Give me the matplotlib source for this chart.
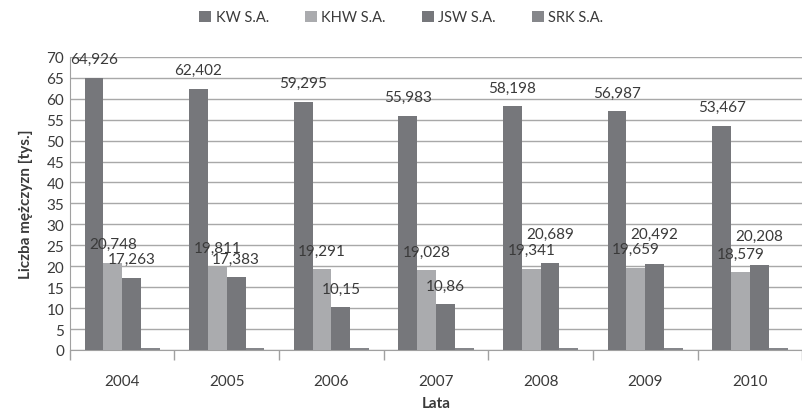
import numpy as np
from matplotlib import pyplot as plt
from matplotlib.patches import Patch

plt.rcParams['font.family'] = ['Lato', 'DejaVu Sans']

years = ['2004', '2005', '2006', '2007', '2008', '2009', '2010']
companies = ['KW S.A.', 'KHW S.A.', 'JSW S.A.', 'SRK S.A.']
kw = [64.926, 62.402, 59.295, 55.983, 58.198, 56.987, 53.467]
khw = [20.748, 19.811, 19.291, 19.028, 19.341, 19.659, 18.579]
jsw = [17.263, 17.383, 10.15, 10.86, 20.689, 20.492, 20.208]
srk = [0.4, 0.4, 0.4, 0.4, 0.4, 0.4, 0.4]  # no labels in the original, estimated
kw_lbl = ['64,926', '62,402', '59,295', '55,983', '58,198', '56,987', '53,467']
khw_lbl = ['20,748', '19,811', '19,291', '19,028', '19,341', '19,659', '18,579']
jsw_lbl = ['17,263', '17,383', '10,15', '10,86', '20,689', '20,492', '20,208']

colors = ['#76777b', '#aaabae', '#76777b', '#86878b']
txt = '#3a3a3a'

fig = plt.figure(figsize=(8.03, 4.10), dpi=100)
ax = fig.add_axes([0.087, 0.144, 0.912, 0.715])

x = np.arange(len(years))
w = 0.18
series = [kw, khw, jsw, srk]
for i, vals in enumerate(series):
    ax.bar(x + (i - 1.5) * w, vals, w, color=colors[i], zorder=3)

# data labels (Excel moved some JSW labels up a bit to avoid overlap)
for i in range(len(years)):
    ax.annotate(kw_lbl[i], (x[i] - 1.5 * w, kw[i]), xytext=(0, 13.5),
                textcoords='offset points', ha='center', va='center',
                fontsize=11, color=txt, zorder=5)
    ax.annotate(khw_lbl[i], (x[i] - 0.5 * w, khw[i]), xytext=(0, 13.5),
                textcoords='offset points', ha='center', va='center',
                fontsize=11, color=txt, zorder=5)
    dy = 21.5 if i >= 4 else 13.5
    ax.annotate(jsw_lbl[i], (x[i] + 0.5 * w, jsw[i]), xytext=(0, dy),
                textcoords='offset points', ha='center', va='center',
                fontsize=11, color=txt, zorder=5)

ax.set_xlim(-0.5, len(years) - 0.5)
ax.set_ylim(0, 70)
ax.set_yticks(range(0, 71, 5))
ax.set_xticks(x)
ax.set_xticklabels(years)
ax.set_xticks(np.arange(-0.5, len(years)), minor=True)
ax.tick_params(axis='x', which='major', length=0, pad=17, labelsize=11, labelcolor=txt)
ax.tick_params(axis='x', which='minor', length=7, color='#a0a0a0', width=1)
ax.tick_params(axis='y', length=0, pad=4, labelsize=11, labelcolor=txt)
ax.grid(axis='y', color='#a8a8a8', linewidth=1, zorder=0)

for s in ['top', 'right']:
    ax.spines[s].set_visible(False)
for s in ['left', 'bottom']:
    ax.spines[s].set_color('#a0a0a0')

ax.set_ylabel('Liczba mężczyzn [tys.]', fontsize=11, fontweight='bold', color=txt, labelpad=10)
ax.set_xlabel('Lata', fontsize=11, fontweight='bold', color=txt, labelpad=6)

handles = [Patch(facecolor=c) for c in colors]
fig.legend(handles, companies, loc='center', bbox_to_anchor=(0.5, 0.955), ncol=4,
           frameon=False, fontsize=10.5, handlelength=0.8, handleheight=0.8,
           handletextpad=0.3, columnspacing=2.5, labelcolor=txt)

fig.savefig('out.png', dpi=100)
